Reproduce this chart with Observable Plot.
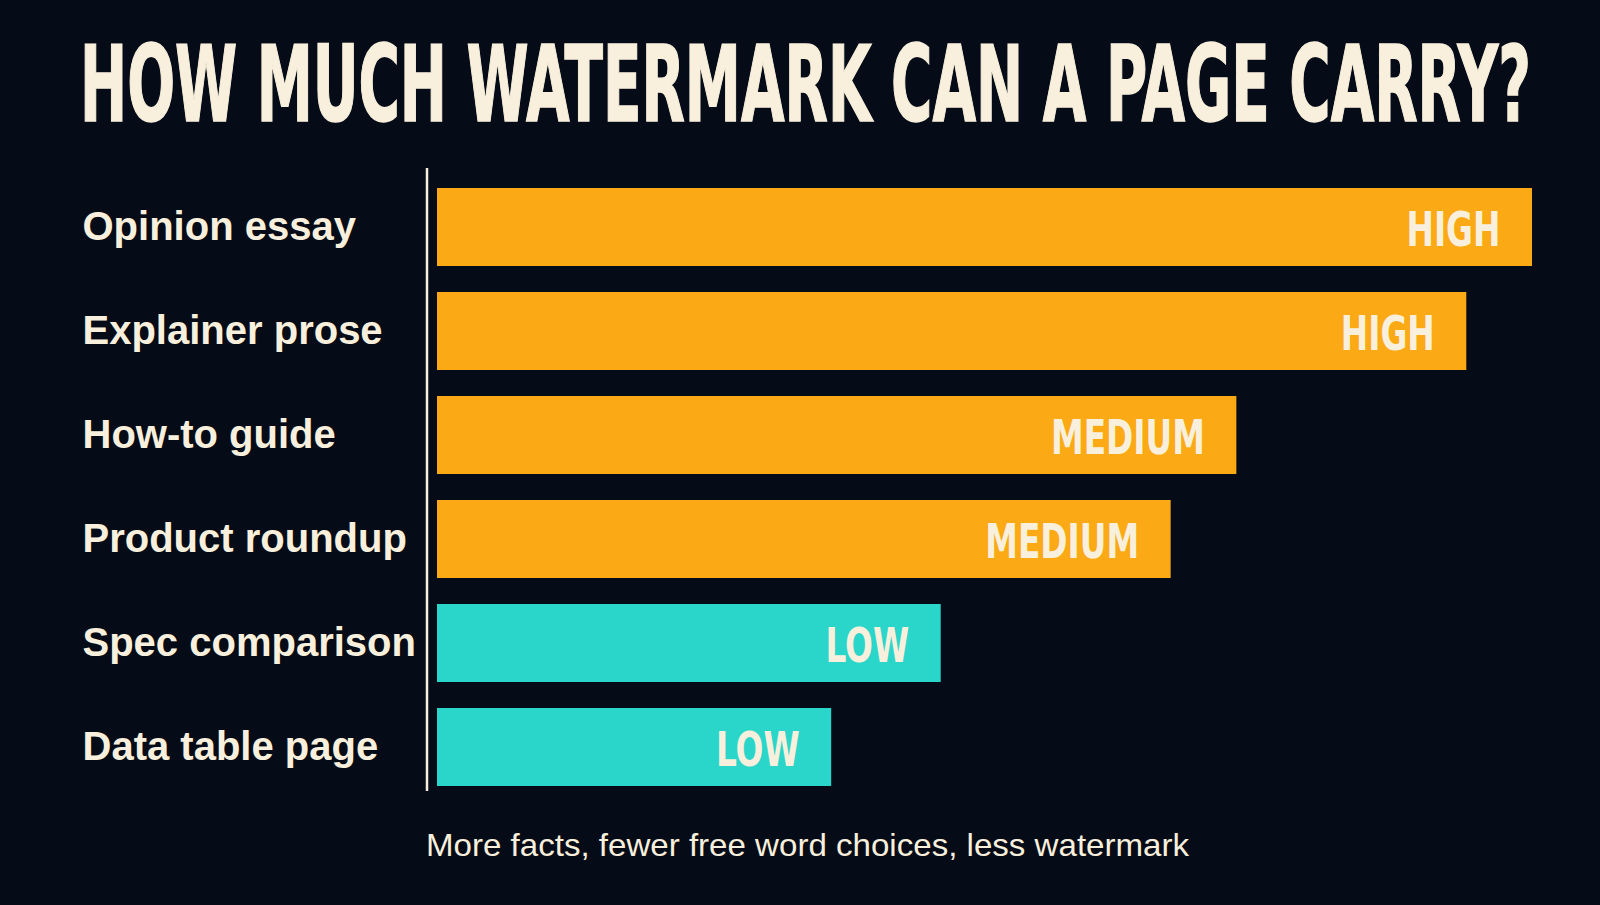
<!DOCTYPE html>
<html><head><meta charset="utf-8">
<script src="https://cdn.jsdelivr.net/npm/d3@7"></script>
<script src="https://cdn.jsdelivr.net/npm/@observablehq/plot@0.6"></script>
<style>
html,body{margin:0;padding:0;background:#060b18;}
#wrap{position:relative;width:1600px;height:905px;overflow:hidden;background:#060b18;}
#title{position:absolute;left:80px;top:32px;margin:0;font-family:"Liberation Sans Narrow","DejaVu Sans Condensed","Liberation Sans",sans-serif;font-weight:700;font-size:106px;line-height:1;color:#f8f0dc;white-space:nowrap;transform-origin:0 0;-webkit-text-stroke:1.5px #f8f0dc;}
#chart{position:absolute;left:0;top:150px;}
#caption{position:absolute;left:426px;top:829px;font-family:"Liberation Sans",Arial,sans-serif;font-size:32px;line-height:1;color:#f8f0dc;white-space:nowrap;transform-origin:0 0;}
</style>
</head><body>
<div id="wrap">
  <div id="title">HOW MUCH WATERMARK CAN A PAGE CARRY?</div>
  <div id="chart"></div>
  <div id="caption">More facts, fewer free word choices, less watermark</div>
</div>
<script>
const categories = ["Opinion essay","Explainer prose","How-to guide","Product roundup","Spec comparison","Data table page"];
const values = [100, 94, 73, 67, 46, 36];
const levels = ["HIGH","HIGH","MEDIUM","MEDIUM","LOW","LOW"];
const levelDomain = ["HIGH","MEDIUM","LOW"];
const levelColors = ["#fba915","#fba915","#29d6c9"];

const data = categories.map((c,i)=>({category:c, value:values[i], level:levels[i]}));

const chart = Plot.plot({
  width:1600, height:660,
  marginLeft:437, marginRight:68, marginTop:18, marginBottom:19,
  style:{background:"transparent", color:"#f8f0dc", fontFamily:"Liberation Sans, Arial, sans-serif"},
  x:{domain:[0,100], axis:null},
  y:{domain:categories, paddingInner:0.25, paddingOuter:0.11, align:0.8, label:null},
  color:{domain:levelDomain, range:levelColors},
  marks:[
    Plot.barX(data,{y:"category", x:"value", fill:"level"}),
    Plot.text(data,{y:"category", x:"value", text:"level", textAnchor:"end", dx:-32, dy:3, fill:"#f8f0dc", fontSize:48, fontWeight:700, fontFamily:"Liberation Sans Narrow, DejaVu Sans Condensed, sans-serif"}),
    Plot.ruleX([0],{dx:-10.5, stroke:"#f8f0dc", strokeWidth:2.5}),
    Plot.axisY({tickSize:0, tickPadding:0, textAnchor:"start", dx:-355, fontSize:40, fontWeight:700, fill:"#f8f0dc", label:null})
  ]
});
document.getElementById("chart").appendChild(chart);

// condense the in-bar level labels
chart.querySelectorAll('g[aria-label="text"] text').forEach(t => {
  const w = t.getComputedTextLength();
  t.setAttribute("textLength", (w * 0.76).toFixed(1));
  t.setAttribute("lengthAdjust", "spacingAndGlyphs");
});

function fit(id, target){
  const el = document.getElementById(id);
  const w = el.getBoundingClientRect().width;
  el.style.transform = `scaleX(${target / w})`;
}
fit("title", 1451);
fit("caption", 763);
</script>
</body></html>
